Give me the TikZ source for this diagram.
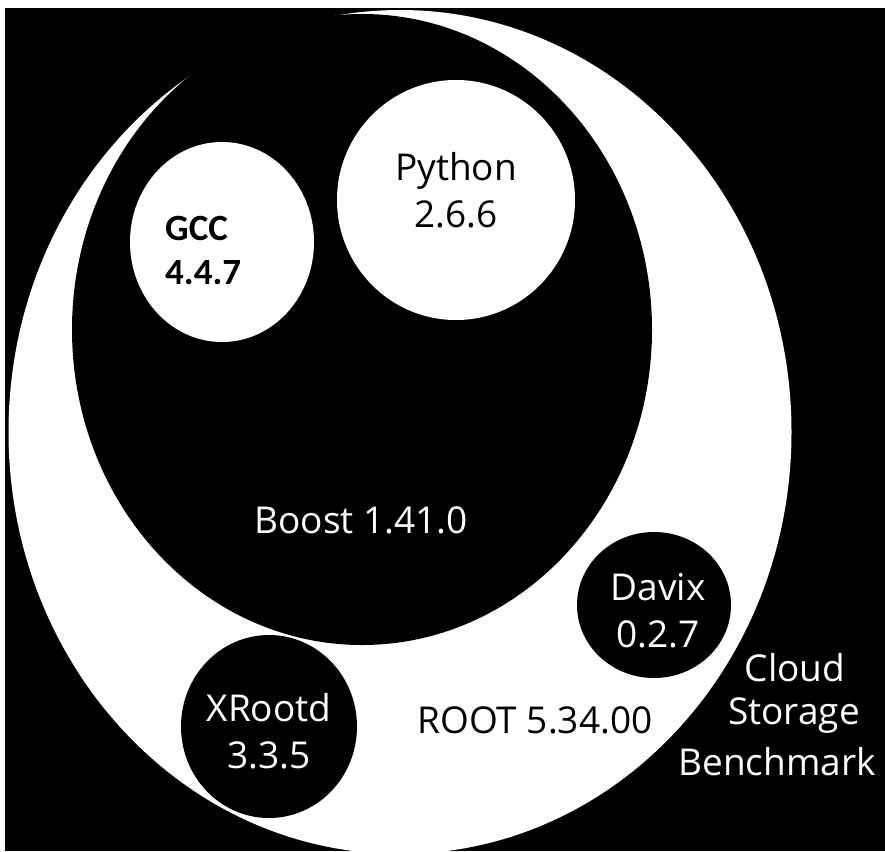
\documentclass[tikz,border=0pt]{standalone}
\usepackage{fontspec}
\setmainfont{Open Sans}
\newfontfamily\gccfont{Carlito}
\usepackage{tikz}

\begin{document}
\begin{tikzpicture}[line cap=round,line join=round,x=1pt,y=-1pt,
  lbldark/.style={text=black,align=center,inner sep=0pt,font=\fontsize{37}{47}\selectfont},
  lbllight/.style={text=white,align=center,inner sep=0pt,font=\fontsize{37}{47}\selectfont}]
\useasboundingbox (0.,0.) rectangle (885.,851.);
\fill [white] (0.,0.) rectangle (885.,851.);
\fill [black] (5.,8.) rectangle (885.,851.);

\begin{scope}
\clip (5.,8.) rectangle (885.,851.);
\fill [white] (400.,432.) ellipse (391.5 and 422.);
\end{scope}
\fill [black] (362.,329.5) ellipse (290. and 315.5);
\fill [white] (222.,242.) ellipse (92. and 100.);
\fill [white] (456.,200.) ellipse (119. and 120.);
\fill [black] (654.,605.) ellipse (77. and 73.);
\fill [black] (269.,726.5) ellipse (88. and 91.5);

\draw (165.,250.) node (gcc) [anchor=west,align=left,inner sep=0pt,text=black,font=\gccfont\bfseries\fontsize{37}{44}\selectfont] {GCC\\4.4.7};
\draw (456.,190.) node (python) [lbldark] {Python\\2.6.6};
\draw (361.,520.) node (boost) [lbllight] {Boost 1.41.0};
\draw (658.,611.) node (davix) [lbllight] {Davix\\0.2.7};
\draw (269.,731.) node (xrootd) [lbllight] {XRootd\\3.3.5};
\draw (535.,720.) node (root) [lbldark] {ROOT 5.34.00};
\draw (795.,668.) node (cloud) [lbllight] {Cloud};
\draw (794.,716.) node (storage) [lbllight] {Storage};
\draw (777.,762.) node (bench) [lbllight] {Benchmark};
\end{tikzpicture}
\end{document}
